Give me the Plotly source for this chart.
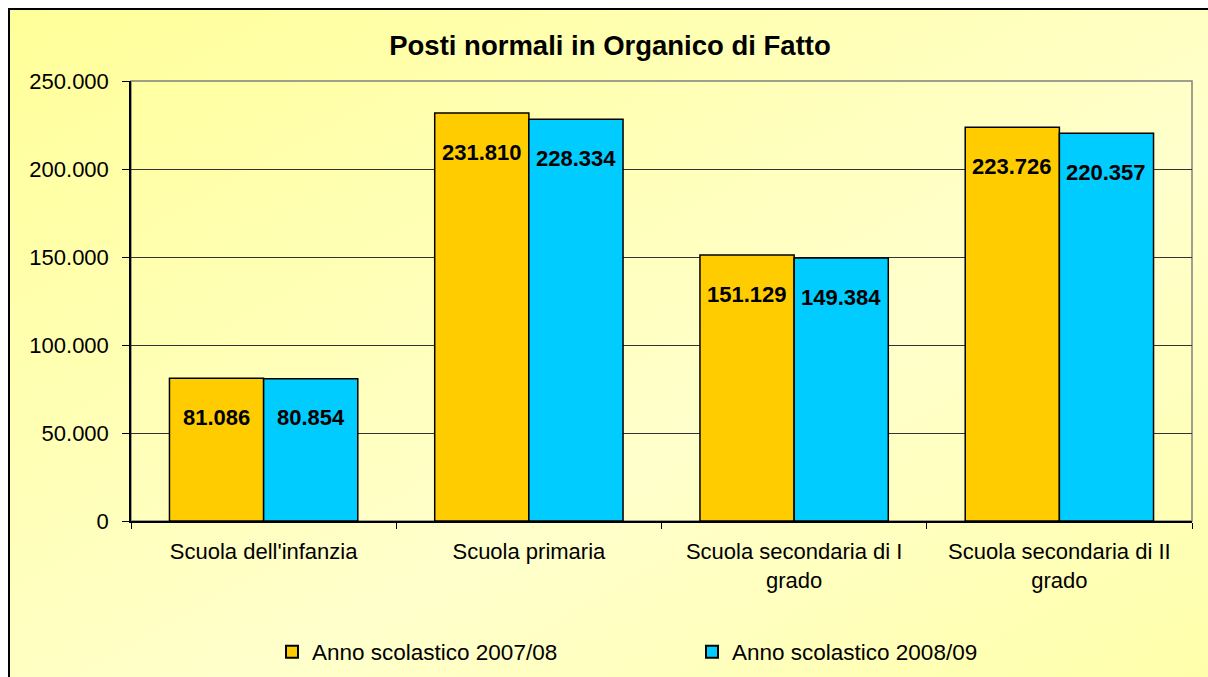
import base64
import plotly.graph_objects as go

categories = ["Scuola dell'infanzia", "Scuola primaria",
              "Scuola secondaria di I<br>grado", "Scuola secondaria di II<br>grado"]
series_names = ["Anno scolastico 2007/08", "Anno scolastico 2008/09"]
values_2007 = [81086, 231810, 151129, 223726]
values_2008 = [80854, 228334, 149384, 220357]
colors = ["#FFCC00", "#00CCFF"]
y_ticks = [0, 50000, 100000, 150000, 200000, 250000]

W, H = 1208, 677
FONT = "Arial, Liberation Sans, sans-serif"


def xp(px):
    return px / W


def yp(py):
    return 1 - py / H


fig = go.Figure()
for name, vals, col in zip(series_names, [values_2007, values_2008], colors):
    fig.add_trace(go.Bar(
        x=categories, y=vals, name=name,
        marker=dict(color=col, line=dict(color="black", width=1.5)),
        hoverinfo="x+y",
    ))

# bar value labels
annotations = []
for vals, shift in [(values_2007, -47), (values_2008, 47)]:
    for c, v in zip(categories, vals):
        annotations.append(dict(
            x=c, y=v, xref="x", yref="y", xshift=shift, yshift=-39,
            text=f"{v:,}".replace(",", "."), showarrow=False,
            font=dict(family=FONT, size=22, color="black", weight="bold"),
        ))

# decorative diagonal background gradient as an SVG data URI
svg = (
    '<svg xmlns="http://www.w3.org/2000/svg" width="100" height="100" preserveAspectRatio="none">'
    '<defs><linearGradient id="g" x1="0" y1="0" x2="1" y2="1">'
    '<stop offset="0" stop-color="#FFFF99"/>'
    '<stop offset="0.5" stop-color="#FFFFCC"/>'
    '<stop offset="1" stop-color="#FFFF99"/>'
    '</linearGradient></defs>'
    '<rect width="100" height="100" fill="url(#g)"/></svg>'
)
src = "data:image/svg+xml;base64," + base64.b64encode(svg.encode()).decode()

# outer chart frame: only left and top edges are visible in the window
frame_path = f"M {xp(9)},-0.05 L {xp(9)},{yp(9)} L 1.05,{yp(9)}"

fig.update_layout(
    width=W, height=H,
    margin=dict(l=0, r=0, t=0, b=0, autoexpand=False),
    paper_bgcolor="white",
    plot_bgcolor="rgba(0,0,0,0)",
    separators=",.",
    barmode="group", bargap=0.29, bargroupgap=0,
    font=dict(family=FONT, color="black"),
    title=dict(text="<b>Posti normali in Organico di Fatto</b>",
               x=xp(610), xanchor="center", y=yp(45), yanchor="middle",
               font=dict(size=27.5, family=FONT, color="black")),
    xaxis=dict(domain=[xp(131), xp(1192)], showline=True, linecolor="black", linewidth=1.5,
               ticks="outside", ticklen=6, tickcolor="black", tickson="boundaries",
               tickfont=dict(size=22, family=FONT), ticklabelstandoff=10,
               showgrid=False),
    yaxis=dict(domain=[yp(521), yp(81)], range=[0, 250000], tickvals=y_ticks, tickformat=",d",
               showline=True, linecolor="black", linewidth=1.5,
               ticks="outside", ticklen=7, tickcolor="black",
               tickfont=dict(size=22, family=FONT), ticklabelstandoff=9,
               showgrid=True, gridcolor="#333333", gridwidth=1, zeroline=False),
    legend=dict(orientation="h", x=xp(272), xanchor="left", y=yp(652), yanchor="middle",
                font=dict(size=22.5, family=FONT), bgcolor="rgba(0,0,0,0)",
                entrywidth=375, itemsizing="constant"),
    annotations=annotations,
    images=[dict(source=src, xref="paper", yref="paper", x=xp(9), y=yp(8),
                 sizex=1.2, sizey=1.2, xanchor="left", yanchor="top",
                 sizing="stretch", layer="below")],
    shapes=[
        dict(type="path", xref="paper", yref="paper", path=frame_path,
             line=dict(color="black", width=2), layer="above"),
        dict(type="rect", xref="x domain", yref="y domain", x0=0, y0=0, x1=1, y1=1,
             line=dict(color="#808080", width=1.5), fillcolor="rgba(0,0,0,0)", layer="below"),
    ],
)

# remove the default page margin so the figure fills the window exactly
fig.write_html("out.html",
               config=dict(displayModeBar=False),
               post_script="document.body.style.margin='0';document.body.style.overflow='hidden';")
